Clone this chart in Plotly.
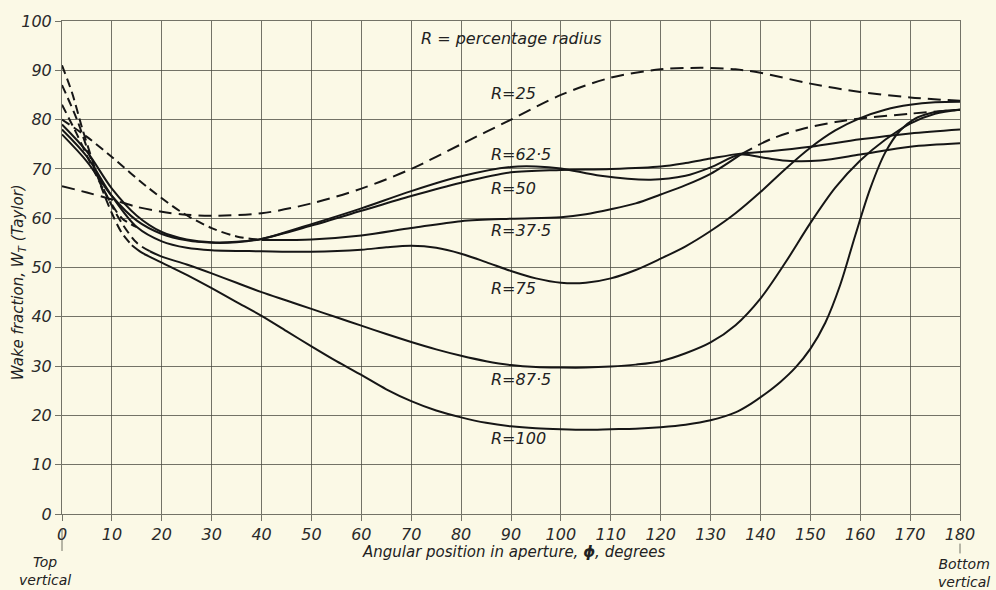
import plotly.graph_objects as go

# ---------------- data ----------------
x_ticks = list(range(0, 181, 10))
y_ticks = list(range(0, 101, 10))

# R = 25 (dashed throughout)
r25_x = [0, 5, 10, 15, 20, 25, 30, 40, 50, 60, 70, 80, 90, 100, 110, 120, 128, 135, 140, 150, 160, 170, 180]
r25_y = [66.5, 65.2, 63.8, 62.3, 61.3, 60.7, 60.5, 61, 63, 66, 70, 75, 80, 85, 88.5, 90.2, 90.5, 90.2, 89.5, 87.3, 85.6, 84.5, 83.8]

# R = 37.5 (dashed start, solid middle, dashed end)
r37_dash1_x = [0, 5, 10, 17, 24, 30, 35, 40]
r37_dash1_y = [80, 76.5, 72.4, 66.4, 61.2, 58, 56.3, 55.6]
r37_x = [40, 50, 60, 70, 80, 90, 100, 105, 110, 115, 120, 125, 130, 136]
r37_y = [55.6, 55.7, 56.5, 58, 59.4, 59.9, 60.2, 60.8, 61.8, 63, 64.8, 66.7, 69, 72.9]
r37_dash2_x = [136, 142, 148, 155, 160, 170, 180]
r37_dash2_y = [72.9, 76, 78, 79.5, 80.2, 81.2, 82]

# R = 50
r50_x = [0, 5, 10, 15, 20, 25, 30, 35, 40, 50, 60, 70, 80, 90, 100, 110, 120, 125, 130, 136, 142, 150, 160, 170, 180]
r50_y = [79, 73.5, 66, 60.5, 57.2, 55.7, 55.1, 55.2, 55.8, 58.5, 61.5, 64.5, 67.2, 69.3, 69.8, 70, 70.5, 71.2, 72.1, 73.1, 73.6, 74.5, 76, 77.2, 78]

# R = 62.5
r62_x = [0, 5, 10, 15, 20, 25, 30, 35, 40, 50, 60, 70, 80, 90, 95, 100, 108, 118, 125, 130, 136, 141, 146, 152, 160, 170, 180]
r62_y = [77, 71.5, 64.5, 59.5, 56.8, 55.5, 55, 55.1, 55.8, 58.8, 62, 65.5, 68.5, 70.4, 70.5, 70.1, 68.6, 67.8, 68.6, 70.3, 72.9, 72.2, 71.6, 71.7, 72.9, 74.5, 75.2]

# R = 75 (solid, plus dashed extrapolation near the top vertical)
r75_x = [0, 5, 10, 15, 20, 25, 30, 40, 50, 60, 65, 70, 75, 80, 85, 90, 95, 100, 105, 110, 115, 120, 125, 130, 135, 140, 145, 150, 155, 160, 165, 170, 175, 180]
r75_y = [78, 72.5, 64.5, 58.2, 55.3, 54, 53.5, 53.3, 53.2, 53.6, 54.1, 54.4, 54, 52.8, 51.1, 49.3, 47.8, 46.9, 46.9, 47.8, 49.5, 51.8, 54.3, 57.4, 61, 65.3, 70, 74.3, 77.8, 80.3, 82, 83, 83.5, 83.6]
r75_dash_x = [0, 3, 6, 9, 12, 15]
r75_dash_y = [83, 77, 70.5, 64.5, 60, 58.2]

# R = 87.5 (dashed start, then solid)
r87_dash_x = [0, 3, 6, 9, 12, 15, 17.6]
r87_dash_y = [87, 80, 71.5, 64.5, 59, 55, 53.3]
r87_x = [17.6, 20, 25, 30, 35, 40, 45, 50, 55, 60, 65, 70, 75, 80, 85, 90, 95, 100, 105, 110, 115, 120, 125, 130, 135, 140, 145, 150, 155, 160, 165, 170, 175, 180]
r87_y = [53.3, 52.2, 50.6, 48.8, 46.9, 45, 43.3, 41.6, 39.9, 38.2, 36.5, 34.9, 33.4, 32.1, 31, 30.2, 29.8, 29.7, 29.7, 29.9, 30.3, 31, 32.6, 34.8, 38.3, 43.7, 51, 59, 66.2, 71.7, 75.9, 79.2, 81.2, 82]

# R = 100 (dashed start, then solid)
r100_dash_x = [0, 2, 4, 6, 8, 10, 12, 14]
r100_dash_y = [91, 85.5, 78.4, 72, 66, 61, 57, 54.5]
r100_x = [14, 16, 20, 25, 30, 35, 40, 45, 50, 55, 60, 65, 70, 75, 80, 85, 90, 95, 100, 105, 110, 115, 120, 125, 130, 135, 138, 141, 144, 147, 150, 153, 156, 159, 162, 165, 168, 171, 174, 177, 180]
r100_y = [54.5, 53, 51, 48.5, 45.8, 43, 40.2, 37.1, 34, 31, 28.2, 25.3, 22.9, 21, 19.6, 18.5, 17.8, 17.4, 17.2, 17.1, 17.2, 17.3, 17.6, 18.1, 19, 20.6, 22.3, 24.4, 26.8, 29.7, 33.5, 38.8, 46.5, 56.5, 66, 73.3, 77.8, 80.2, 81.3, 81.8, 82]

# curve labels
label_text = ["R=25", "R=62·5", "R=50", "R=37·5", "R=75", "R=87·5", "R=100"]
label_x = [85.6, 85.6, 85.6, 85.6, 85.6, 85.6, 85.6]
label_y = [85.3, 72.9, 66.0, 57.6, 45.7, 27.3, 15.4]

# ---------------- styling ----------------
BG = "#fbf9e6"
INK = "#161616"
GRID = "rgba(70,70,60,0.75)"
FONT = "DejaVu Sans"

fig = go.Figure()

def add(x, y, dash="solid"):
    fig.add_trace(go.Scatter(
        x=x, y=y, mode="lines",
        line=dict(color=INK, width=2, dash=dash, shape="spline", smoothing=0.9),
        hoverinfo="skip", showlegend=False))

SHORT = "9px,5px"
LONG = "13px,7px"

add(r25_x, r25_y, LONG)
add(r37_dash1_x, r37_dash1_y, SHORT)
add(r37_x, r37_y)
add(r37_dash2_x, r37_dash2_y, LONG)
add(r50_x, r50_y)
add(r62_x, r62_y)
add(r75_x, r75_y)
add(r75_dash_x, r75_dash_y, SHORT)
add(r87_dash_x, r87_dash_y, SHORT)
add(r87_x, r87_y)
add(r100_dash_x, r100_dash_y, SHORT)
add(r100_x, r100_y)

annotations = []
for t, lx, ly in zip(label_text, label_x, label_y):
    annotations.append(dict(x=lx, y=ly, xref="x", yref="y", text=t, showarrow=False,
                            xanchor="left", yanchor="middle",
                            font=dict(family=FONT, size=16, color="#222", style="italic")))

annotations.append(dict(x=90, y=96.4, xref="x", yref="y", text="R = percentage radius",
                        showarrow=False, xanchor="center", yanchor="middle",
                        font=dict(family=FONT, size=16, color="#222", style="italic")))

# axis titles as annotations
annotations.append(dict(x=-0.049, y=0.47, xref="paper", yref="paper",
                        text="Wake fraction, W<sub>T</sub> (Taylor)", textangle=-90,
                        showarrow=False, xanchor="center", yanchor="middle",
                        font=dict(family=FONT, size=15, color="#222", style="italic")))
annotations.append(dict(x=0.503, y=-0.077, xref="paper", yref="paper",
                        text="Angular position in aperture, <b>ϕ</b>, degrees",
                        showarrow=False, xanchor="center", yanchor="middle",
                        font=dict(family=FONT, size=15, color="#222", style="italic")))
annotations.append(dict(x=-0.019, y=-0.077, xref="paper", yref="paper",
                        text="Top<br>vertical", showarrow=False, xanchor="center", yanchor="top",
                        font=dict(family=FONT, size=14, color="#222", style="italic")))
annotations.append(dict(x=1.004, y=-0.081, xref="paper", yref="paper",
                        text="Bottom<br>vertical", showarrow=False, xanchor="center", yanchor="top",
                        font=dict(family=FONT, size=14, color="#222", style="italic")))

shapes = [
    dict(type="line", xref="paper", yref="paper", x0=0, x1=0, y0=-0.03, y1=-0.075,
         line=dict(color=GRID, width=1)),
    dict(type="line", xref="paper", yref="paper", x0=1, x1=1, y0=-0.06, y1=-0.08,
         line=dict(color=GRID, width=1)),
]

axis_common = dict(showgrid=True, gridcolor=GRID, gridwidth=1, zeroline=False,
                   showline=True, mirror=True, linecolor=GRID, linewidth=1,
                   ticks="outside", ticklen=6, tickcolor=GRID, tickwidth=1,
                   tickfont=dict(family=FONT, size=16, color="#2a2a2a", style="italic"))

fig.update_layout(
    width=996, height=590, autosize=False,
    margin=dict(l=62, r=36, t=19, b=76),
    paper_bgcolor=BG, plot_bgcolor=BG,
    annotations=annotations, shapes=shapes,
    xaxis=dict(range=[0, 180], tickvals=x_ticks, **axis_common),
    yaxis=dict(range=[0, 100], tickvals=y_ticks, **axis_common),
)

fig.write_html("out.html")
